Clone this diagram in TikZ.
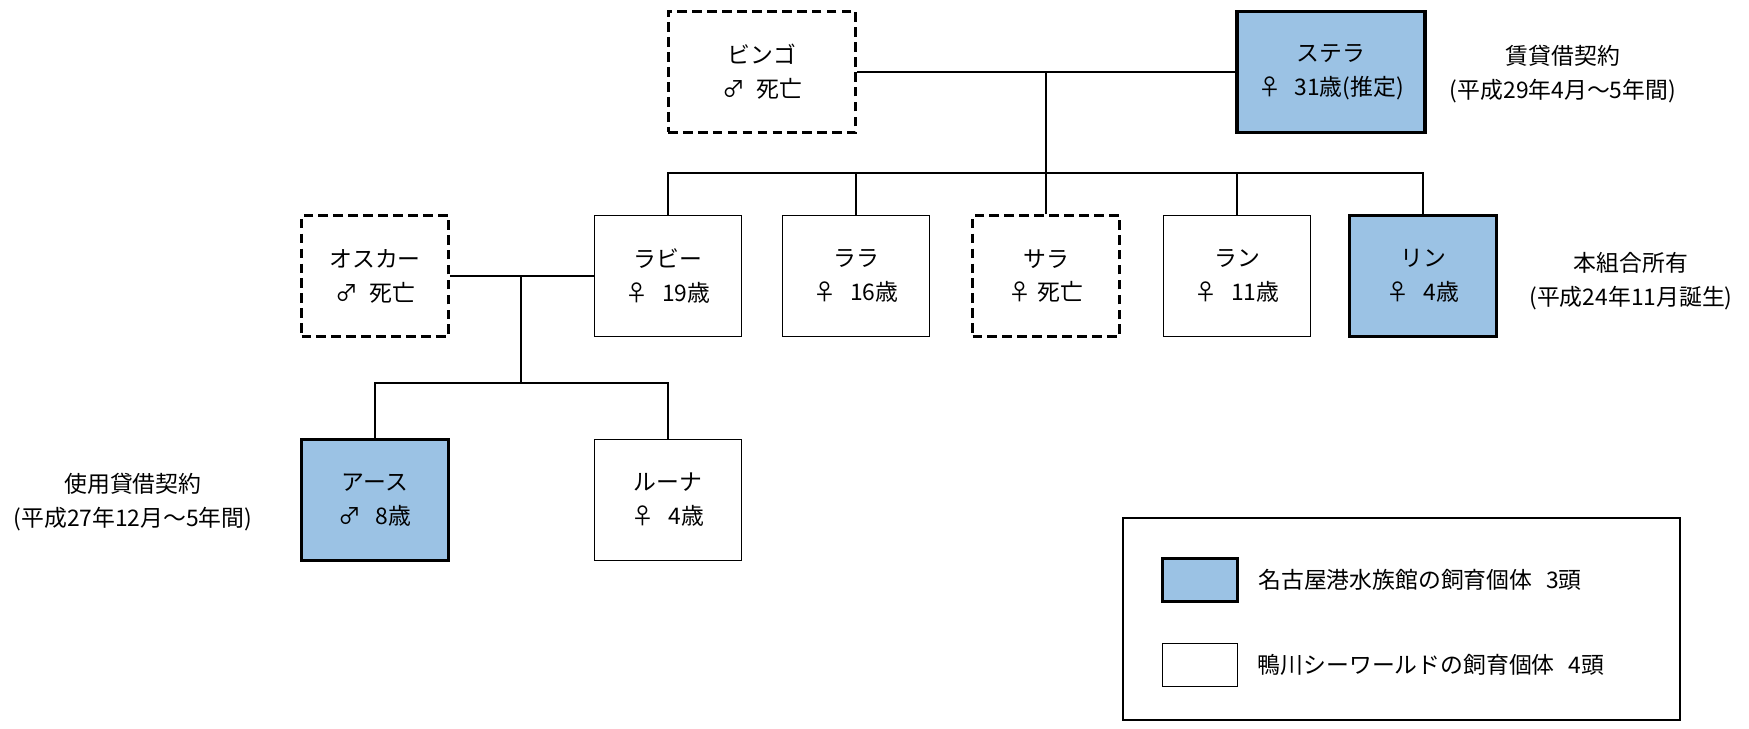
\documentclass[tikz,border=0pt]{standalone}
\usepackage{fontspec}
\setmainfont{Noto Sans CJK JP}
\usetikzlibrary{positioning}
\definecolor{aquablue}{RGB}{155,194,228}
\tikzset{
  orcabox/.style={draw, line width=1.1pt, fill=white, minimum width=2.94cm, minimum height=2.42cm,
    align=center, inner sep=0pt, font=\fontsize{13}{19.3}\selectfont},
  parentbox/.style={orcabox, minimum width=3.76cm},
  deadbox/.style={dash pattern=on 5.5pt off 3pt, line width=1.7pt},
  nagoyabox/.style={fill=aquablue, line width=1.8pt},
  link/.style={line width=1.1pt},
  note/.style={align=center, inner sep=0pt, font=\fontsize{13}{19.3}\selectfont},
  keybox/.style={draw, line width=1.1pt, fill=white, minimum width=1.5cm, minimum height=0.86cm}
}
\begin{document}
\begin{tikzpicture}[x=0.02cm, y=-0.02cm]
  \useasboundingbox (0,0) rectangle (1749,728);
  \node[parentbox, deadbox] (bingo) at (762,72) {ビンゴ\\♂\hspace{.5em}死亡};
  \node[parentbox, nagoyabox] (stella) at (1331,72) {ステラ\\♀\hspace{.6em}31歳(推定)};
  \node[orcabox, deadbox] (oscar) at (375,276) {オスカー\\♂\hspace{.5em}死亡};
  \node[orcabox] (rabi) at (668,276) {ラビー\\♀\hspace{.6em}19歳};
  \node[orcabox] (lala) at (856,276) {ララ\\♀\hspace{.6em}16歳};
  \node[orcabox, deadbox] (sara) at (1046,276) {サラ\\♀\hspace{.25em}死亡};
  \node[orcabox] (ran) at (1237,276) {ラン\\♀\hspace{.6em}11歳};
  \node[orcabox, nagoyabox] (rin) at (1423,276) {リン\\♀\hspace{.6em}4歳};
  \node[orcabox, nagoyabox] (aas) at (375,500) {アース\\♂\hspace{.6em}8歳};
  \node[orcabox] (luna) at (668,500) {ルーナ\\♀\hspace{.6em}4歳};
  \coordinate (pair) at (1046,72);
  \coordinate (kidbar) at (1046,173);
  \coordinate (pair2) at (521,276);
  \coordinate (gbar) at (521,383);
  \draw[link] (bingo) -- (stella);
  \draw[link] (pair) -- (kidbar);
  \draw[link] (rabi.north) |- (kidbar) -| (rin.north);
  \foreach \k in {lala,sara,ran}
    \draw[link] (\k.north) -- (\k.north |- kidbar);
  \draw[link] (oscar) -- (rabi);
  \draw[link] (pair2) -- (gbar);
  \draw[link] (aas.north) |- (gbar) -| (luna.north);
  \node[note] (lease) at (1563,74) {賃貸借契約\\(平成29年4月～5年間)};
  \node[note] (owned) at (1631,281) {本組合所有\\(平成24年11月誕生)};
  \node[note] (loan) at (133,502) {使用貸借契約\\(平成27年12月～5年間)};
  \draw[line width=1.1pt] (1123,518) rectangle (1680,720);
  \node[keybox, nagoyabox] (keyblue) at (1200,580) {};
  \node[keybox] (keywhite) at (1200,665) {};
  \node[note, right=0.38cm of keyblue] (keytext1) {名古屋港水族館の飼育個体\hspace{.6em}3頭};
  \node[note, right=0.38cm of keywhite] (keytext2) {鴨川シーワールドの飼育個体\hspace{.6em}4頭};
\end{tikzpicture}
\end{document}
